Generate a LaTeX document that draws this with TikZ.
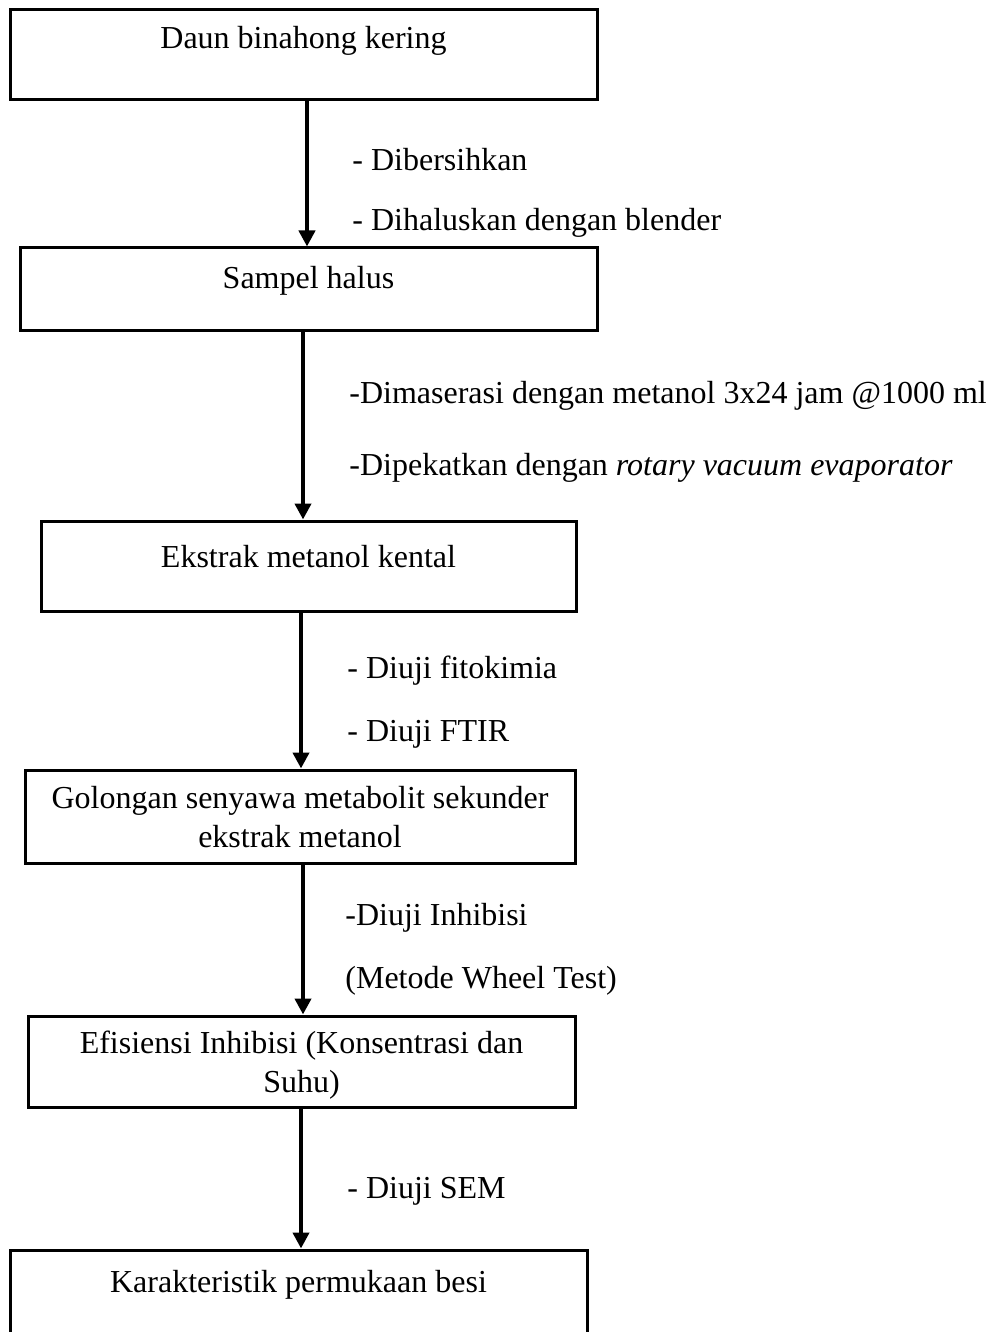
\documentclass[tikz,border=0pt]{standalone}
\usepackage{fontspec}
\setmainfont{Liberation Serif}
\usetikzlibrary{arrows.meta}
\usetikzlibrary{positioning}

\tikzset{
  stepbox/.style={draw, line width=1.5pt, inner sep=0pt, align=center},
  flow/.style={line width=2pt, -{Triangle[width=8pt,length=8pt]}},
  note/.style={anchor=west, inner sep=0pt, yshift=-1.5pt}
}

\begin{document}
\fontsize{16}{19.5}\selectfont
\begin{tikzpicture}[x=0.5pt,y=-0.5pt]
\useasboundingbox (0,0) rectangle (989,1332);
% boxes
\node[stepbox, minimum width=293.5pt, minimum height=45pt] (b1) at (303.5,55) {};
\node (t1) at ([yshift=-16pt]b1.north) {Daun binahong kering};
\node[stepbox, minimum width=288.5pt, minimum height=41pt] (b2) at (308.5,289) {};
\node (t2) at ([yshift=-17pt]b2.north) {Sampel halus};
\node[stepbox, minimum width=267.5pt, minimum height=45pt] (b3) at (308.5,566) {};
\node (t3) at ([yshift=-18.5pt]b3.north) {Ekstrak metanol kental};
\node[stepbox, minimum width=275pt, minimum height=46.5pt, text depth=0pt] (b4) at (300,816.5)
  {Golongan senyawa metabolit sekunder\\ekstrak metanol};
\node[stepbox, minimum width=273.5pt, minimum height=45.5pt, text depth=0pt] (b5) at (301.5,1061.5)
  {Efisiensi Inhibisi (Konsentrasi dan\\Suhu)};
\node[stepbox, minimum width=288.5pt, minimum height=45pt] (b6) at (298.5,1295) {};
\node (t6) at ([yshift=-18pt]b6.north) {Karakteristik permukaan besi};
% arrows
\draw[flow] (b1.south -| 307,0) -- (b2.north -| 307,0);
\draw[flow] (b2.south -| 303,0) -- (b3.north -| 303,0);
\draw[flow] (b3.south -| 301,0) -- (b4.north -| 301,0);
\draw[flow] (b4.south -| 303,0) -- (b5.north -| 303,0);
\draw[flow] (b5.south -| 301,0) -- (b6.north -| 301,0);
% process notes
\node[note] (n1) at (352,157) {- Dibersihkan};
\node[note] (n2) at (352,220) {- Dihaluskan dengan blender};
\node[note] (n3) at (349,393) {-Dimaserasi dengan metanol 3x24 jam @1000 ml};
\node[note] (n4) at (349,465) {-Dipekatkan dengan \textit{rotary vacuum evaporator}};
\node[note] (n5) at (347,668) {- Diuji fitokimia};
\node[note] (n6) at (347,731) {- Diuji FTIR};
\node[note] (n7) at (345,915) {-Diuji Inhibisi};
\node[note] (n8) at (345,978) {(Metode Wheel Test)};
\node[note] (n9) at (347,1188) {- Diuji SEM};
\end{tikzpicture}
\end{document}
